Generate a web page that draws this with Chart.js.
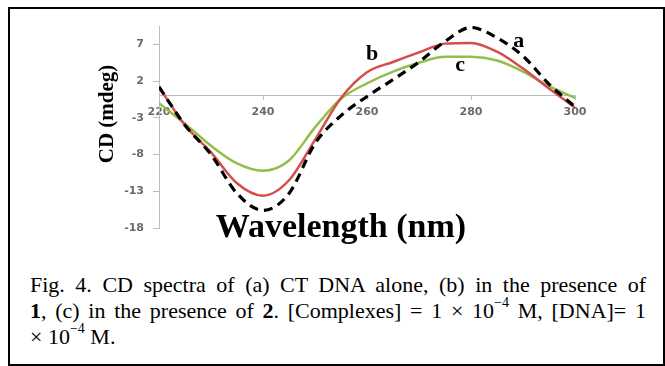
<!DOCTYPE html>
<html><head><meta charset="utf-8">
<script src="https://cdn.jsdelivr.net/npm/chart.js@4.4.1/dist/chart.umd.min.js"></script>
<style>
html,body{margin:0;padding:0;background:#fff;width:665px;height:366px;overflow:hidden;}
#frame{position:absolute;left:8px;top:7px;width:653px;height:355px;border:2px solid #000;}
#wrap{position:absolute;left:0;top:0;width:665px;height:250px;}
#cap{position:absolute;left:30px;top:272px;width:616px;font-family:"Liberation Serif","Times New Roman",serif;font-size:22px;line-height:26px;color:#000;}
#cap div{text-align:justify;text-align-last:justify;}
#cap div.l{text-align:left;text-align-last:left;}
#cap sup{font-size:14px;line-height:0;position:relative;top:-3px;}
</style>
</head><body>
<div id="frame"></div>
<div id="wrap"><canvas id="c" width="665" height="250"></canvas></div>
<div id="cap">
<div>Fig. 4. CD spectra of (a) CT DNA alone, (b) in the presence of</div>
<div><b>1</b>, (c) in the presence of <b>2</b>. [Complexes] = 1 × 10<sup>−4</sup> M, [DNA]= 1</div>
<div class="l">× 10<sup>−4</sup> M.</div>
</div>
<script>
const wavelengths = [220,225,230,235,240,245,250,255,260,265,270,275,280,285,290,295,300];
const cdA = [1.2,-4.0,-8.0,-13.3,-15.6,-13.3,-6.5,-2.7,-0.1,2.2,4.6,7.4,9.3,7.9,5.4,1.6,-1.5];
const cdB = [1.2,-4.0,-7.7,-11.9,-13.6,-11.5,-6.0,-0.3,3.2,4.6,5.9,7.1,7.2,6.0,3.7,1.0,-1.6];
const cdC = [-1.0,-3.8,-6.8,-9.2,-10.2,-8.8,-4.3,-0.4,1.7,3.3,4.5,5.3,5.3,4.8,3.3,1.3,-0.3];
const xTicks = [220,240,260,280,300];
const yTicks = [-18,-13,-8,-3,2,7];
const curveLabels = ['a','b','c'];
const labelX = [289.2,261,277.9];
const labelY = [7.4,5.6,4.2];

const pts = arr => wavelengths.map((w,i)=>({x:w,y:arr[i]}));

const textPlugin = {
  id:'texts',
  afterDraw(chart){
    const ctx = chart.ctx, xs = chart.scales.x, ys = chart.scales.y;
    ctx.save();
    ctx.fillStyle = '#000';
    ctx.font = 'bold 22px "Liberation Serif", serif';
    ctx.textAlign = 'center'; ctx.textBaseline = 'middle';
    curveLabels.forEach((t,i)=>{
      ctx.fillText(t, xs.getPixelForValue(labelX[i]), ys.getPixelForValue(labelY[i]));
    });
    ctx.font = 'bold 34px "Liberation Serif", serif';
    ctx.textBaseline = 'alphabetic';
    ctx.fillText('Wavelength (nm)', 341, 237);
    ctx.translate(113, 114);
    ctx.rotate(-Math.PI/2);
    ctx.font = 'bold 21px "Liberation Serif", serif';
    ctx.fillText('CD (mdeg)', 0, 0);
    ctx.restore();
  }
};

new Chart(document.getElementById('c'), {
  type:'line',
  data:{datasets:[
    {label:'a', data:pts(cdA), borderColor:'#000', borderWidth:3.2, borderDash:[9,6], pointRadius:0, cubicInterpolationMode:'monotone', fill:false},
    {label:'b', data:pts(cdB), borderColor:'#d44d4b', borderWidth:2.5, pointRadius:0, cubicInterpolationMode:'monotone', fill:false},
    {label:'c', data:pts(cdC), borderColor:'#92be4c', borderWidth:2.5, pointRadius:0, cubicInterpolationMode:'monotone', fill:false}
  ]},
  options:{
    responsive:false, animation:false,
    layout:{padding:{left:119,right:90,top:26,bottom:22}},
    plugins:{legend:{display:false}, tooltip:{enabled:false}},
    scales:{
      x:{type:'linear', position:{y:0}, min:220, max:300,
         afterBuildTicks:s=>{s.ticks = xTicks.map(v=>({value:v}));},
         grid:{drawOnChartArea:false, drawTicks:true, tickLength:4, color:'#bdbdbd'},
         border:{color:'#bdbdbd', width:1},
         ticks:{padding:6, color:'#6a6a6a', font:{family:'"DejaVu Sans"', size:11, weight:'bold'}, maxRotation:0}},
      y:{type:'linear', min:-18, max:9.5,
         afterBuildTicks:s=>{s.ticks = yTicks.map(v=>({value:v}));},
         afterFit:s=>{s.width = 40;},
         grid:{drawOnChartArea:false, drawTicks:true, tickLength:6, color:'#bdbdbd'},
         border:{color:'#bdbdbd', width:1},
         ticks:{padding:9, color:'#6a6a6a', font:{family:'"DejaVu Sans"', size:11, weight:'bold'}}}
    }
  },
  plugins:[textPlugin]
});
</script>
</body></html>
